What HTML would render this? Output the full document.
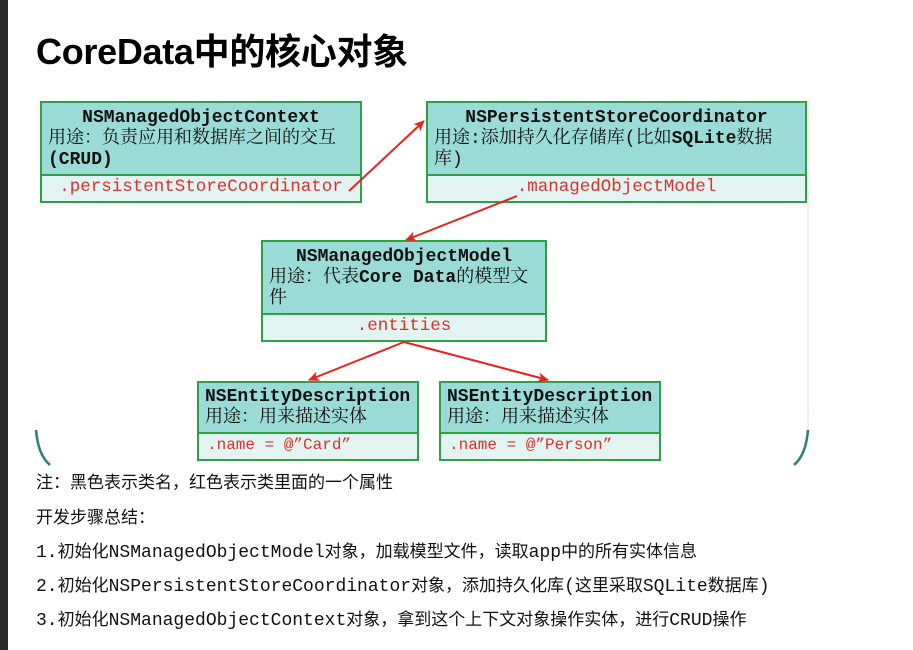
<!DOCTYPE html>
<html><head><meta charset="utf-8"><style>
body{margin:0;width:913px;height:650px;background:#fff;position:relative;overflow:hidden;font-family:"Liberation Sans","Noto Sans CJK SC",sans-serif}
.strip{position:absolute;left:0;top:0;width:8px;height:650px;background:#2a2a2a}
h1{position:absolute;left:36px;top:23px;margin:0;font-size:36px;font-weight:bold;color:#000;letter-spacing:-0.3px}
.box{position:absolute;border:2px solid #2fa043;box-sizing:border-box;background:#e2f4f1}
.hd{position:absolute;left:0;right:0;top:0;background:#9bdbd7;border-bottom:2px solid #2fa043;box-sizing:border-box;padding:5px 6px 0;font-family:"Liberation Mono","Noto Serif CJK SC",monospace;font-size:18px;line-height:21px;color:#111}
.hd b{font-weight:bold}
.ft{position:absolute;left:0;right:0;bottom:0;font-family:"Liberation Mono",monospace;font-size:17.5px;color:#e0302a;text-align:center}
.t{position:absolute;left:36px;font-size:17px;color:#111;font-family:"Liberation Sans","Noto Sans CJK SC",sans-serif}
.m{font-family:"Liberation Mono",monospace;font-size:18px;letter-spacing:0}
</style></head><body>
<div class="strip"></div>
<h1>CoreData中的核心对象</h1>
<svg width="913" height="650" style="position:absolute;left:0;top:0">
<path d="M36 430 Q38 455 50 465" stroke="#2a7f78" stroke-width="2.5" fill="none"/>
<path d="M808 430 Q806 455 794 465" stroke="#2a7f78" stroke-width="2.5" fill="none"/>
<line x1="808" y1="100" x2="808" y2="430" stroke="#eee" stroke-width="2"/>
</svg>
<div class="box" style="left:40px;top:101px;width:322px;height:102px">
<div class="hd" style="height:73px"><div style="text-align:center"><b>NSManagedObjectContext</b></div>用途：负责应用和数据库之间的交互<br><b>(CRUD)</b></div>
<div class="ft" style="height:27px;line-height:27px">.persistentStoreCoordinator</div></div>
<div class="box" style="left:426px;top:101px;width:381px;height:102px">
<div class="hd" style="height:73px"><div style="text-align:center"><b>NSPersistentStoreCoordinator</b></div>用途:添加持久化存储库(比如<b>SQLite</b>数据<br>库)</div>
<div class="ft" style="height:27px;line-height:27px">.managedObjectModel</div></div>
<div class="box" style="left:261px;top:240px;width:286px;height:102px">
<div class="hd" style="height:73px"><div style="text-align:center"><b>NSManagedObjectModel</b></div>用途：代表<b>Core Data</b>的模型文<br>件</div>
<div class="ft" style="height:28px;line-height:28px">.entities</div></div>
<div class="box" style="left:197px;top:381px;width:222px;height:80px">
<div class="hd" style="height:51px;padding-top:4px"><b>NSEntityDescription</b><br>用途：用来描述实体</div>
<div class="ft" style="height:28px;line-height:28px;text-align:left;padding-left:8px;font-size:16px">.name = @”Card”</div></div>
<div class="box" style="left:439px;top:381px;width:222px;height:80px">
<div class="hd" style="height:51px;padding-top:4px"><b>NSEntityDescription</b><br>用途：用来描述实体</div>
<div class="ft" style="height:28px;line-height:28px;text-align:left;padding-left:8px;font-size:16px">.name = @”Person”</div></div>
<svg width="913" height="650" style="position:absolute;left:0;top:0">
<defs><marker id="a" markerWidth="12" markerHeight="12" refX="10" refY="6" orient="auto" markerUnits="userSpaceOnUse"><path d="M0 1 L11 6 L0 11 L3 6 Z" fill="#e8221c"/></marker></defs>
<g stroke="#e8221c" stroke-width="2" marker-end="url(#a)">
<line x1="349" y1="191" x2="424" y2="121"/>
<line x1="517" y1="196" x2="406" y2="240"/>
<line x1="404" y1="342" x2="309" y2="380"/>
<line x1="404" y1="342" x2="548" y2="380"/>
</g></svg>
<div class="t" style="top:468px">注：黑色表示类名，红色表示类里面的一个属性</div>
<div class="t" style="top:503px">开发步骤总结：</div>
<div class="t" style="top:537px"><span class="m">1.</span>初始化<span class="m">NSManagedObjectModel</span>对象，加载模型文件，读取<span class="m">app</span>中的所有实体信息</div>
<div class="t" style="top:571px"><span class="m">2.</span>初始化<span class="m">NSPersistentStoreCoordinator</span>对象，添加持久化库<span class="m">(</span>这里采取<span class="m">SQLite</span>数据库<span class="m">)</span></div>
<div class="t" style="top:605px"><span class="m">3.</span>初始化<span class="m">NSManagedObjectContext</span>对象，拿到这个上下文对象操作实体，进行<span class="m">CRUD</span>操作</div>
</body></html>
